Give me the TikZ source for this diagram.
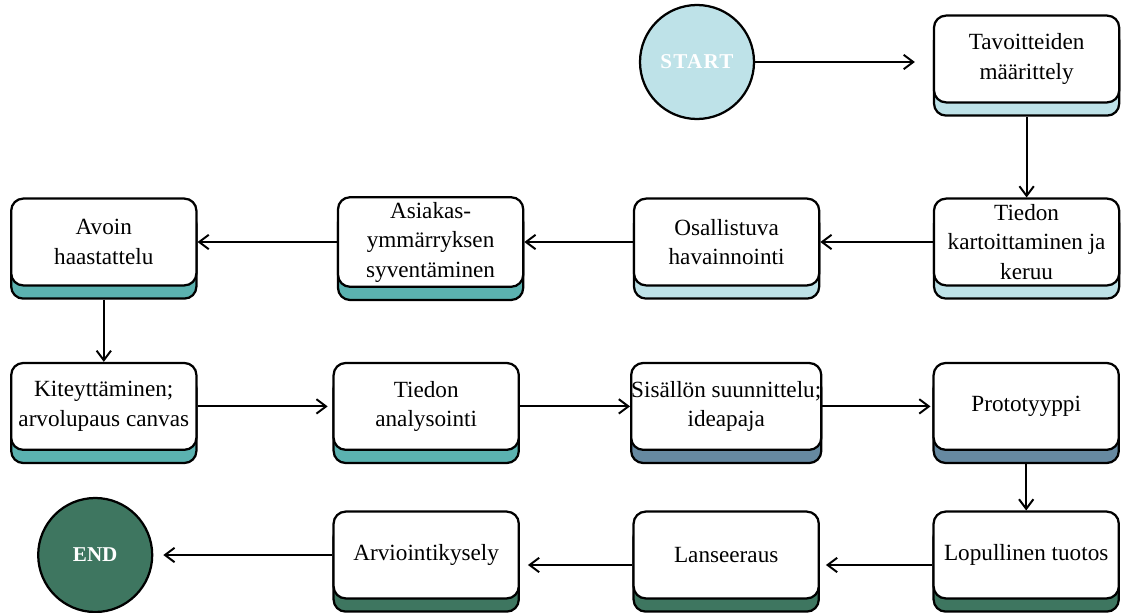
\documentclass[tikz,border=0pt]{standalone}
\usepackage{fontspec}
\setmainfont{Liberation Serif}
\usepackage{xcolor}
\usepackage{tikz}
\usetikzlibrary{shapes,arrows.meta,positioning,shadows}

\definecolor{paleblue}{HTML}{BEE2E8}
\definecolor{tealbox}{HTML}{5BB2B0}
\definecolor{steelbox}{HTML}{6689A1}
\definecolor{greenbox}{HTML}{3E7660}

\begin{document}
\begin{tikzpicture}[
    node distance=7.5cm,
    stepbox/.style={rectangle, rounded corners=0.3cm, draw, line width=1.6pt, fill=white, minimum width=4.63cm, minimum height=2.17cm, inner xsep=0pt, align=center, font=\fontsize{16.5}{21}\selectfont, general shadow={fill=#1, draw=black, line width=1.6pt, shadow yshift=-0.33cm}},
    terminal/.style={circle, draw, line width=1.6pt, fill=#1, minimum size=2.85cm, text=white, font=\fontsize{15}{18}\selectfont\bfseries},
    arrow/.style={->, >={Straight Barb[length=2.4mm,width=3.6mm]}, line width=1.4pt}
]
    \useasboundingbox (0,0) rectangle (28.125,-15.3);

    \node[terminal=paleblue] (start) at (17.425,-1.55) {\addfontfeature{LetterSpace=6}START};
    \node[stepbox=paleblue, right of=start, xshift=0.74cm, yshift=0.075cm] (goals) {Tavoitteiden\\määrittely};
    \node[stepbox=paleblue, below of=goals, yshift=2.925cm] (data) {Tiedon\\kartoittaminen ja\\keruu};
    \node[stepbox=paleblue, left of=data] (observe) {Osallistuva\\havainnointi};
    \node[stepbox=tealbox, left of=observe, xshift=0.1cm] (deepen) {Asiakas-\\ymmärryksen\\syventäminen};
    \node[stepbox=tealbox, left of=deepen, xshift=-0.67cm] (interview) {Avoin\\haastattelu};
    \node[stepbox=tealbox, below of=interview, yshift=3.39cm] (crystal) {Kiteyttäminen;\\arvolupaus canvas};
    \node[stepbox=tealbox, right of=crystal, xshift=0.56cm] (analysis) {Tiedon\\analysointi};
    \node[stepbox=steelbox, right of=analysis] (ideas) {Sisällön suunnittelu;\\ideapaja};
    \node[stepbox=steelbox, right of=ideas] (proto) {Prototyyppi};
    \node[stepbox=greenbox, below of=proto, yshift=3.785cm] (final) {Lopullinen tuotos};
    \node[stepbox=greenbox, left of=final] (launch) {Lanseeraus};
    \node[stepbox=greenbox, left of=launch] (survey) {Arviointikysely};
    \node[terminal=greenbox, left of=survey, xshift=-0.775cm] (end) {END};

    \draw[arrow, shorten >=0.45cm] (start.east) -- (start.east -| goals.west);
    \draw[arrow] ([yshift=-0.33cm]goals.south) -- (data.north);
    \draw[arrow] (data.west) -- (observe.east);
    \draw[arrow] (observe.west) -- (deepen.east);
    \draw[arrow] (deepen.west) -- (interview.east);
    \draw[arrow] ([yshift=-0.33cm]interview.south) -- (interview.south |- crystal.north);
    \draw[arrow, shorten >=0.12cm] (crystal.east) -- (analysis.west);
    \draw[arrow] (analysis.east) -- (ideas.west);
    \draw[arrow, shorten >=0.05cm] (ideas.east) -- (proto.west);
    \draw[arrow] ([yshift=-0.33cm]proto.south) -- (proto.south |- final.north);
    \draw[arrow, shorten >=0.15cm] ([yshift=-0.25cm]final.west) -- ([yshift=-0.25cm]final.west -| launch.east);
    \draw[arrow, shorten >=0.2cm] ([yshift=-0.25cm]launch.west) -- ([yshift=-0.25cm]launch.west -| survey.east);
    \draw[arrow, shorten >=0.25cm] (survey.west) -- (survey.west -| end.east);
\end{tikzpicture}
\end{document}
